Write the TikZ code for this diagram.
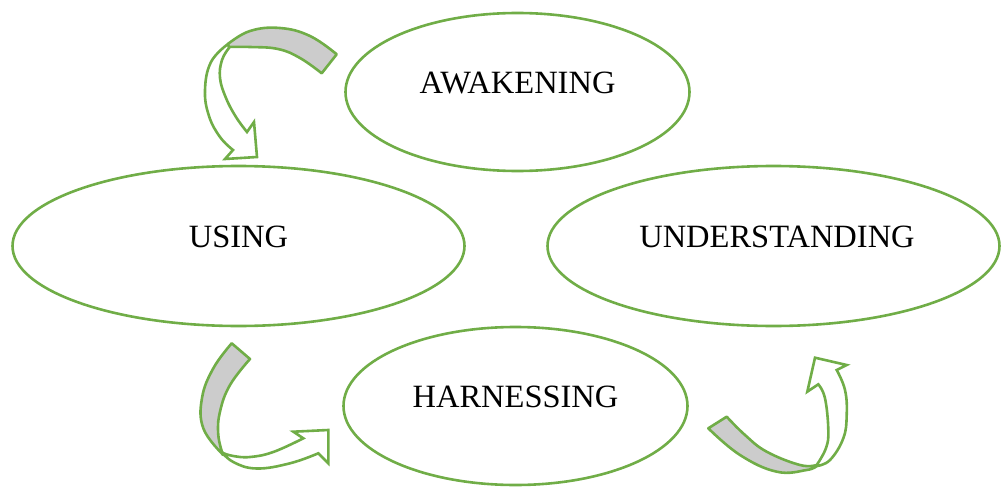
\documentclass[tikz,border=0pt]{standalone}
\usepackage{fontspec}
\setmainfont{Liberation Serif}
\usetikzlibrary{shapes.geometric}
\definecolor{ogreen}{HTML}{70AD47}
\definecolor{bandgray}{HTML}{CCCCCC}
\tikzset{
  stage/.style={draw=ogreen, line width=2.6pt, ellipse, inner sep=0pt},
  stagetext/.style={font=\fontsize{32.5}{36}\selectfont, inner sep=0pt},
  band/.style={draw=ogreen, line width=2.6pt, fill=bandgray, line join=round},
  front/.style={draw=ogreen, line width=2.6pt, fill=white, line join=miter},
}
\begin{document}
\begin{tikzpicture}[x=1pt,y=-1pt]
\useasboundingbox (0,0) rectangle (1001,487);
% ellipses
\node[stage, minimum width=344pt, minimum height=158pt] (aw) at (517.5,92) {};
\node[stage, minimum width=452pt, minimum height=160pt] (us) at (238.5,246) {};
\node[stage, minimum width=452pt, minimum height=160pt] (un) at (773.5,246) {};
\node[stage, minimum width=344pt, minimum height=158pt] (ha) at (515.5,406) {};
\node[stagetext] (awt) at (517.5,82.5) {AWAKENING};
\node[stagetext] (ust) at (238.5,236.5) {USING};
\node[stagetext] (unt) at (777,236.5) {UNDERSTANDING};
\node[stagetext] (hat) at (515.5,396.5) {HARNESSING};
% arrow 1: top left (from AWAKENING to USING)
\path[band] (336.7,54.3) -- plot[smooth, tension=0.7] coordinates {(336.7,54.3) (310,36) (280,28) (250,31) (228,44)}
  -- plot[smooth, tension=0.7] coordinates {(228,47) (250,47) (278,49) (300,58) (321.7,73.3)} -- cycle;
\path[front] (228,44) -- plot[smooth, tension=0.7] coordinates {(228,44) (211,62) (205,90) (209,116) (220,137) (233,150)}
  -- (225,159) -- (257,157) -- (254,122) -- (247,132)
  -- plot[smooth, tension=0.7] coordinates {(247,132) (236,117) (226,98) (220,78) (222,60) (229,48)} -- cycle;
% arrow 2: bottom left (from USING to HARNESSING)
\path[band] (231.7,343.3) -- plot[smooth, tension=0.7] coordinates {(231.7,343.3) (213.3,368.3) (202,398) (203.3,428.3) (221.7,453.3)}
  -- plot[smooth, tension=0.7] coordinates {(223,455) (218.3,435) (220,411.7) (230,385) (250,359)} -- cycle;
\path[front] (220,450) -- plot[smooth, tension=0.7] coordinates {(220,450) (233.3,462) (256.7,468.5) (290,463.3) (318.3,453.3)}
  -- (328.3,463.3) -- (328.3,430) -- (293.3,431.7) -- (303.3,438.3)
  -- plot[smooth, tension=0.7] coordinates {(303.3,438.3) (273.3,452) (250,457) (233.3,456) (223,453)} -- cycle;
% arrow 3: bottom right (from HARNESSING to UNDERSTANDING)
\path[band] (726.7,416.7) -- plot[smooth, tension=0.7] coordinates {(726.7,416.7) (745,435) (766.7,451.7) (800,465) (816.7,465)}
  -- plot[smooth, tension=0.7] coordinates {(816.7,466) (806.7,470) (776.7,471.7) (740,455) (708.3,428.3)} -- cycle;
\path[front] (816.7,465) -- plot[smooth, tension=0.7] coordinates {(816.7,465) (826,448) (828.3,430) (825,398.3) (818.3,384.3)}
  -- (807.3,391.7) -- (815,357.7) -- (846.7,365) -- (836.7,370)
  -- plot[smooth, tension=0.7] coordinates {(836.7,370) (845,390) (846.7,415) (843.3,438.3) (830,460) (816.7,466)} -- cycle;
\end{tikzpicture}
\end{document}
